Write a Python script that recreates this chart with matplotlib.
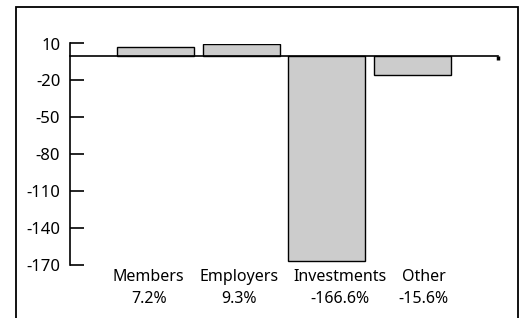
import matplotlib
matplotlib.use("Agg")
import matplotlib.pyplot as plt
from matplotlib.patches import Rectangle
import matplotlib.transforms as mtransforms

categories = ["Members", "Employers", "Investments", "Other"]
values = [7.2, 9.3, -166.6, -15.6]
pct_labels = ["7.2%", "9.3%", "-166.6%", "-15.6%"]
yticks = [10, -20, -50, -80, -110, -140, -170]

W, H = 523, 318
fig = plt.figure(figsize=(W / 100, H / 100), dpi=100)
plt.rcParams['font.family'] = ['Noto Sans', 'DejaVu Sans']

# outer frame
fig.patches.append(Rectangle((16 / W, -0.05), (518 - 16) / W, (H - 7) / H + 0.05,
                             transform=fig.transFigure, fill=False,
                             edgecolor='black', linewidth=1.3))

left, right = 70, 498
top, bottom = 43.5, 265
ax = fig.add_axes([left / W, 1 - bottom / H, (right - left) / W, (bottom - top) / H])
ax.set_xlim(0, 5)
ax.set_ylim(-170, 10)

xs = list(range(1, len(categories) + 1))
ax.bar(xs, values, width=0.9, color='#cccccc', edgecolor='black', linewidth=1.0, zorder=2)

for s in ['top', 'right']:
    ax.spines[s].set_visible(False)
ax.spines['left'].set_bounds(-170, 10)
ax.spines['left'].set_linewidth(1.2)
ax.spines['bottom'].set_position(('data', 0))
ax.spines['bottom'].set_linewidth(1.2)
ax.spines['bottom'].set_zorder(3)

ax.set_yticks(yticks)
ax.set_yticklabels([str(v) for v in yticks], fontsize=12)
ax.tick_params(axis='y', direction='in', length=10, width=1.2, pad=7)
ax.set_xticks([5])
ax.set_xticklabels([""])
ax.tick_params(axis='x', direction='out', length=3, width=2.5)

label_shift = [-0.08, -0.03, 0.15, 0.13]
trans = mtransforms.blended_transform_factory(ax.transData, fig.transFigure)
for x, c, p, d in zip(xs, categories, pct_labels, label_shift):
    ax.text(x + d, 1 - 277 / H, c, transform=trans, ha='center', va='center', fontsize=11.5)
    ax.text(x + d, 1 - 299 / H, p, transform=trans, ha='center', va='center', fontsize=11.5)

fig.savefig("out.png", dpi=100)
